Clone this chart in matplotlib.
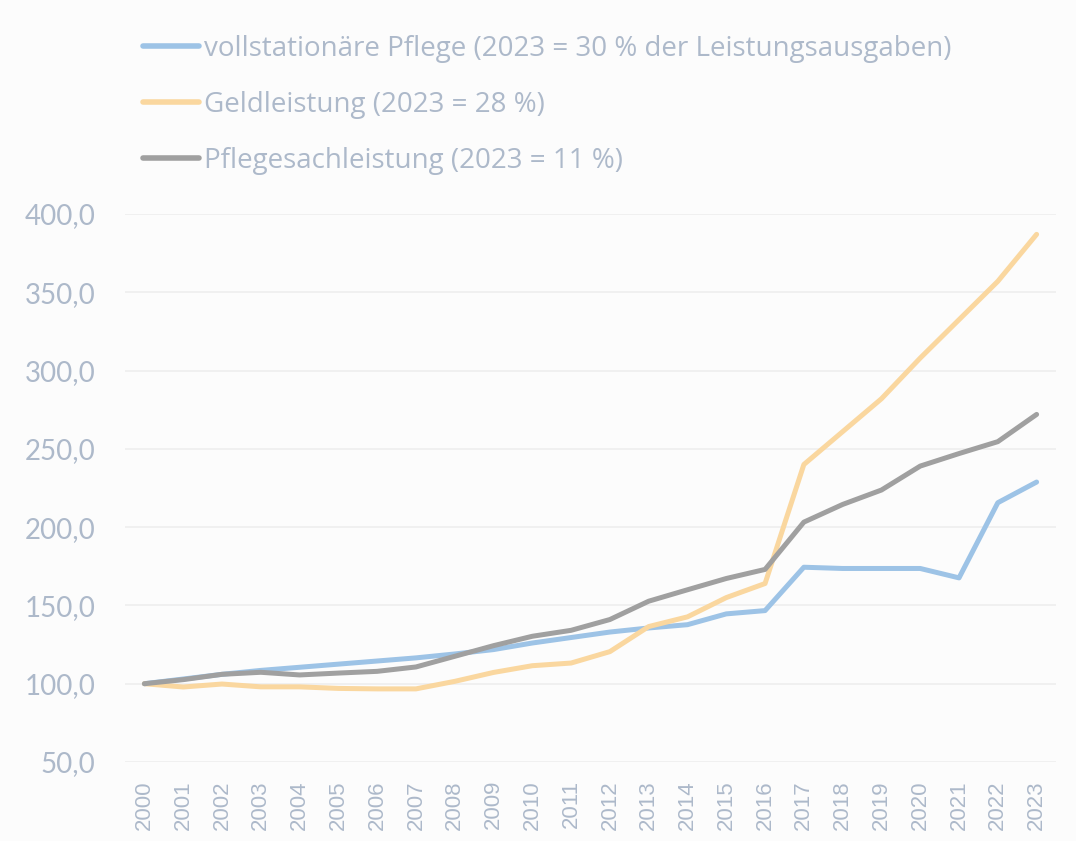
import matplotlib.pyplot as plt

# Index 2000 = 100
jahre = list(range(2000, 2024))
vollstationaer = [100.0, 103.0, 106.0, 108.5, 110.5, 112.5, 114.5, 116.5, 119.0, 121.8,
                  126.0, 129.5, 133.0, 135.6, 137.7, 144.6, 146.7, 174.4, 173.6, 173.6,
                  173.6, 167.6, 215.6, 228.8]
geldleistung = [100.0, 97.9, 99.8, 98.0, 98.0, 97.0, 96.7, 96.7, 101.5, 107.2,
                111.5, 113.2, 120.5, 136.5, 142.7, 155.0, 164.0, 240.0, 261.0, 282.0,
                308.0, 332.5, 357.0, 387.0]
pflegesach = [100.0, 102.6, 106.0, 107.3, 105.6, 106.8, 107.9, 110.7, 117.5, 124.3,
              130.3, 134.1, 141.0, 152.7, 160.0, 167.2, 173.0, 203.2, 214.5, 223.7,
              239.0, 247.0, 254.6, 272.0]
namen = ['vollstationäre Pflege (2023 = 30 % der Leistungsausgaben)',
         'Geldleistung (2023 = 28 %)',
         'Pflegesachleistung (2023 = 11 %)']
y_ticks = [50, 100, 150, 200, 250, 300, 350, 400]

textfarbe = '#adb9ca'
farben = ['#9dc3e6', '#fad79f', '#a0a0a0']


def Draw():
    fig = plt.figure(figsize=(10.76, 8.41), dpi=100, facecolor='#fcfcfc')
    ax = fig.add_axes([125 / 1076, 1 - 762 / 841, 931 / 1076, (762 - 214) / 841])
    ax.set_facecolor('#fcfcfc')

    x = list(range(len(jahre)))
    for serie, farbe, name in zip([vollstationaer, geldleistung, pflegesach], farben, namen):
        ax.plot(x, serie, color=farbe, lw=3.6, label=name, solid_capstyle='round',
                solid_joinstyle='round')

    ax.set_xlim(-0.5, len(jahre) - 0.5)
    ax.set_ylim(50, 400)
    ax.set_yticks(y_ticks)
    ax.set_yticklabels(['%d,0' % v for v in y_ticks], family='Lato', fontsize=20,
                       color=textfarbe)
    ax.set_xticks(x)
    ax.set_xticklabels([str(j) for j in jahre], rotation=90, family='Liberation Sans',
                       fontsize=16, color=textfarbe)
    ax.tick_params(axis='y', length=0, pad=21.5)
    ax.tick_params(axis='x', length=0, pad=13)
    ax.grid(axis='y', color='#efefef', lw=1.3)
    ax.set_axisbelow(True)
    for s in ax.spines.values():
        s.set_visible(False)

    leg = fig.legend(loc='upper left', bbox_to_anchor=(143 / 1076, 1 - 35 / 841),
                     frameon=False, prop={'family': 'Open Sans', 'size': 20},
                     handlelength=2.0, handletextpad=0.18, labelspacing=1.0,
                     borderpad=0, borderaxespad=0)
    for t in leg.get_texts():
        t.set_color(textfarbe)
    for l in leg.get_lines():
        l.set_linewidth(4)

    fig.savefig('out.png', dpi=100, facecolor=fig.get_facecolor())


def main():
    Draw()

if __name__ == '__main__':
    main()
